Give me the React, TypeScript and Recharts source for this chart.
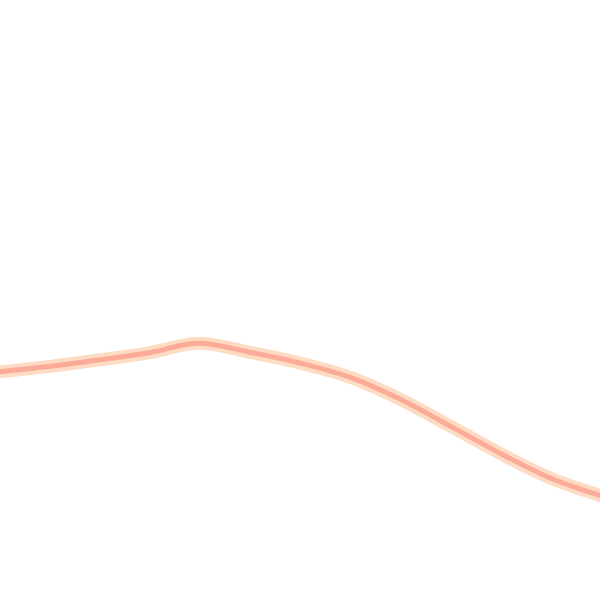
import { Line, LineChart, XAxis, YAxis } from 'recharts';

const steps = [0, 1, 2, 3, 4, 5, 6, 7, 8, 9, 10, 11, 12];
const values = [38.0, 38.9, 40.0, 41.2, 42.8, 41.3, 39.5, 37.1, 33.4, 28.9, 24.3, 20.2, 17.3];

const data = steps.map((s, i) => ({ s, v: values[i] }));

export default function App() {
  return (
    <div style={{ position: 'absolute', left: 0, top: 0, width: 600, height: 600, background: '#fff' }}>
      <LineChart width={600} height={600} data={data} margin={{ top: 0, right: 0, bottom: 0, left: 0 }}>
        <XAxis dataKey="s" type="number" domain={[0.05, 11.95]} allowDataOverflow hide />
        <YAxis domain={[0, 100]} hide />
        <Line
          dataKey="v"
          type="monotone"
          stroke="#fedcc4"
          strokeWidth={13}
          dot={false}
          isAnimationActive={false}
        />
        <Line
          dataKey="v"
          type="monotone"
          stroke="#fbab98"
          strokeWidth={5}
          dot={false}
          isAnimationActive={false}
        />
      </LineChart>
    </div>
  );
}
